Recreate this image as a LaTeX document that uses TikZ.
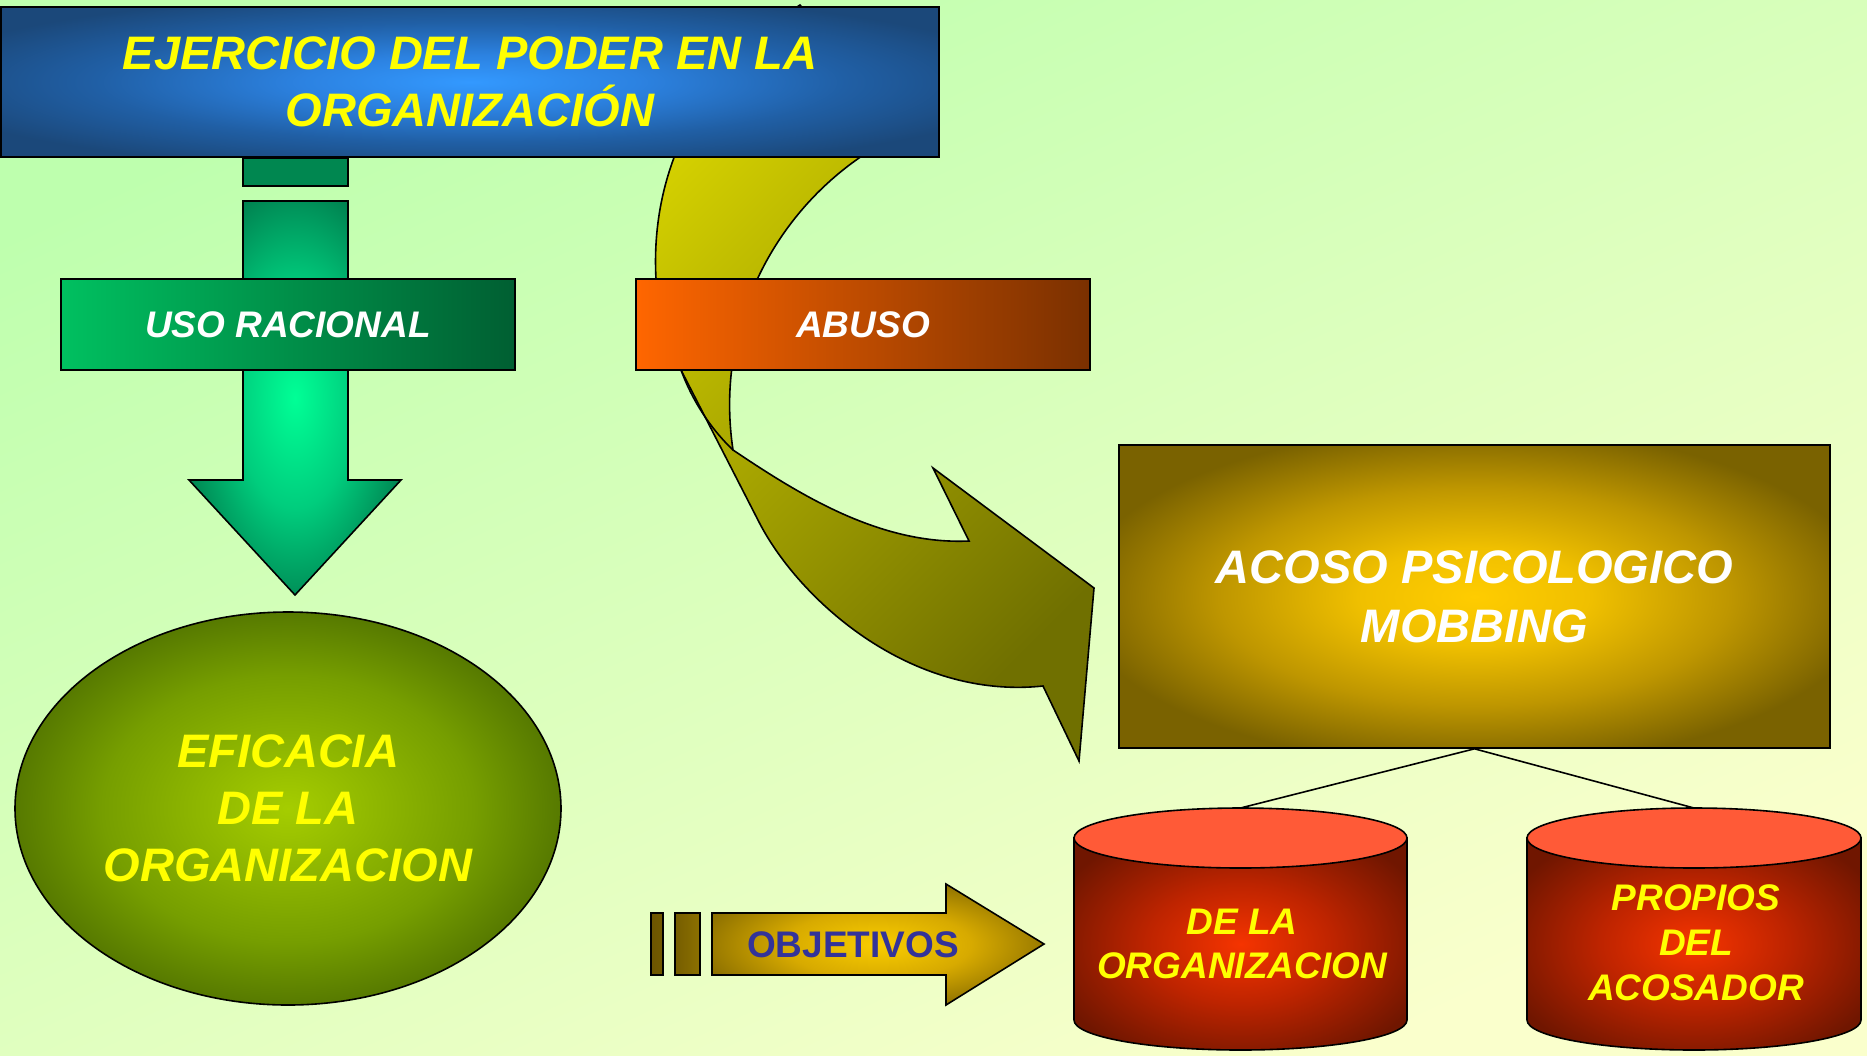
\documentclass[tikz,border=0pt]{standalone}
\usepackage{fontspec}
\setmainfont{Liberation Sans}
\usetikzlibrary{calc,positioning,shapes.geometric}

\definecolor{bgTop}{RGB}{190,255,174}
\definecolor{bgMid}{RGB}{225,255,190}
\definecolor{bgBot}{RGB}{250,255,204}
\definecolor{textoAmarillo}{RGB}{255,255,0}
\definecolor{azulObj}{RGB}{51,51,153}
\definecolor{tituloIn}{RGB}{51,153,255}
\definecolor{tituloA}{RGB}{44,130,225}
\definecolor{tituloMid}{RGB}{32,95,165}
\definecolor{tituloOut}{RGB}{27,72,122}
\definecolor{acosoIn}{RGB}{255,204,0}
\definecolor{acosoA}{RGB}{240,192,0}
\definecolor{acosoMid}{RGB}{190,150,0}
\definecolor{acosoOut}{RGB}{122,98,0}
\definecolor{eficIn}{RGB}{165,205,0}
\definecolor{eficMid}{RGB}{118,158,0}
\definecolor{eficOut}{RGB}{55,85,0}
\definecolor{cilIn}{RGB}{245,52,0}
\definecolor{cilMid}{RGB}{190,36,0}
\definecolor{cilOut}{RGB}{112,22,0}
\definecolor{cilTapa}{RGB}{255,90,55}
\definecolor{verdeIn}{RGB}{0,255,150}
\definecolor{verdeMid}{RGB}{0,205,125}
\definecolor{verdeOut}{RGB}{0,105,65}
\definecolor{verdeTapon}{RGB}{0,135,80}
\definecolor{usoL}{RGB}{0,192,96}
\definecolor{usoR}{RGB}{0,95,50}
\definecolor{abusoL}{RGB}{255,102,0}
\definecolor{abusoR}{RGB}{122,48,0}
\definecolor{curvaTop}{RGB}{212,208,0}
\definecolor{curvaMid}{RGB}{190,186,0}
\definecolor{curvaBot}{RGB}{112,112,0}
\definecolor{objIn}{RGB}{250,205,0}
\definecolor{objMid}{RGB}{215,170,0}
\definecolor{objOut}{RGB}{115,92,0}
\definecolor{barraA}{RGB}{108,85,0}
\definecolor{barraB}{RGB}{140,112,0}

\pgfdeclareradialshading{tituloglow}{\pgfpoint{0bp}{0bp}}{color(0bp)=(tituloIn); color(9bp)=(tituloA); color(20bp)=(tituloMid); color(30bp)=(tituloOut); color(50bp)=(tituloOut)}
\pgfdeclareradialshading{acosoglow}{\pgfpoint{0bp}{0bp}}{color(0bp)=(acosoIn); color(8bp)=(acosoA); color(18bp)=(acosoMid); color(28bp)=(acosoOut); color(50bp)=(acosoOut)}
\pgfdeclareradialshading{eficglow}{\pgfpoint{0bp}{0bp}}{color(0bp)=(eficIn); color(17bp)=(eficMid); color(33bp)=(eficOut); color(50bp)=(eficOut)}
\pgfdeclareradialshading{cilglow}{\pgfpoint{0bp}{0bp}}{color(0bp)=(cilIn); color(14bp)=(cilMid); color(30bp)=(cilOut); color(50bp)=(cilOut)}
\pgfdeclareradialshading{verdeglow}{\pgfpoint{0bp}{0bp}}{color(0bp)=(verdeIn); color(14bp)=(verdeMid); color(32bp)=(verdeOut); color(50bp)=(verdeOut)}
\pgfdeclareradialshading{objglow}{\pgfpoint{0bp}{0bp}}{color(0bp)=(objIn); color(14bp)=(objMid); color(32bp)=(objOut); color(50bp)=(objOut)}

\begin{document}
\begin{tikzpicture}[x=1pt,y=-1pt]
		\tikzset{
			caja/.style={draw=black, line width=1.6pt, inner sep=0pt},
			borde/.style={draw=black, line width=1.6pt},
			amarillo/.style={text=textoAmarillo, align=center, font=\fontsize{47}{57}\selectfont\bfseries\itshape},
			blanco/.style={text=white, align=center, font=\fontsize{47}{59}\selectfont\bfseries\itshape},
			etiqueta/.style={text=white, font=\fontsize{37}{44}\selectfont\bfseries\itshape},
			cilindro/.style={text=textoAmarillo, align=center, font=\fontsize{37}{44}\selectfont\bfseries\itshape}
		}

		% Background
		\shade[top color=bgTop, middle color=bgMid, bottom color=bgBot, shading angle=25] (0,0) rectangle (1867,1055);
		\useasboundingbox (0,0) rectangle (1867,1055);

		% Curved arrow (abuso)
		\path[borde, top color=curvaTop, middle color=curvaMid, bottom color=curvaBot, shading angle=45]
			(800,5) .. controls (700,70) and (650,170) .. (656,279)
			.. controls (658,320) and (668,345) .. (681,370)
			-- (760,524) .. controls (800,600) and (910,700) .. (1043,686)
			-- (1079,761) -- (1094,588) -- (933,468) -- (969,541)
			.. controls (880,545) and (800,495) .. (733,450)
			.. controls (715,330) and (770,220) .. (859,158)
			-- (905,128) -- cycle;
		\draw[line width=1.6pt] (733,450) .. controls (710,428) and (692,400) .. (681,370);

		% Green arrow (uso racional)
		\node[caja, fill=verdeTapon, minimum width=105pt, minimum height=28pt] (tapon) at (295.5,172) {};
		\path[borde, shade, shading=verdeglow]
			(243,201) -- (348,201) -- (348,480) -- (401,480) -- (295,595) -- (189,480) -- (243,480) -- cycle;

		% Title
		\node[caja, shade, shading=tituloglow, amarillo, minimum width=938pt, minimum height=150pt] (titulo) at (470,82)
			{EJERCICIO DEL PODER EN LA\\ORGANIZACIÓN};

		% Middle boxes
		\node[caja, left color=usoL, right color=usoR, etiqueta, minimum width=454pt, minimum height=91pt] (uso) at (288,324.5) {USO RACIONAL};
		\node[caja, left color=abusoL, right color=abusoR, etiqueta, minimum width=454pt, minimum height=91pt] (abuso) at (863,324.5) {ABUSO};

		% Result
		\node[ellipse, caja, shade, shading=eficglow, amarillo, minimum width=546pt, minimum height=393pt] (eficacia) at (288,808.5)
			{EFICACIA\\DE LA\\ORGANIZACION};

		% Mobbing
		\node[caja, shade, shading=acosoglow, blanco, minimum width=711pt, minimum height=303pt] (acoso) at (1474.5,596.5)
			{ACOSO PSICOLOGICO\\MOBBING};

		\coordinate (orgtop) at (1240.5,808);
		\coordinate (propiotop) at (1694,808);
		\draw[line width=1.6pt] (acoso.south) -- (orgtop);
		\draw[line width=1.6pt] (acoso.south) -- (propiotop);

		% Cylinders
		\path[borde, shade, shading=cilglow] (1074,838) -- (1074,1020) arc[start angle=180, end angle=0, x radius=166.5, y radius=30] -- (1407,838) -- cycle;
		\path[borde, fill=cilTapa] (1240.5,838) ellipse[x radius=166.5, y radius=30];
		\node[cilindro] (org) at (1242,944) {DE LA\\ORGANIZACION};

		\path[borde, shade, shading=cilglow] (1527,838) -- (1527,1020) arc[start angle=180, end angle=0, x radius=167, y radius=30] -- (1861,838) -- cycle;
		\path[borde, fill=cilTapa] (1694,838) ellipse[x radius=167, y radius=30];
		\node[cilindro, font=\fontsize{37}{45}\selectfont\bfseries\itshape] (propio) at (1696,943) {PROPIOS\\DEL\\ACOSADOR};

		% Objetivos arrow
		\path[borde, left color=barraA, right color=barraA!80!barraB] (651,913) rectangle (663,975);
		\path[borde, left color=barraA!70!barraB, right color=barraB] (675,913) rectangle (700,975);
		\path[borde, shade, shading=objglow]
			(712,913) -- (946,913) -- (946,884) -- (1044,944) -- (946,1005) -- (946,975) -- (712,975) -- cycle;
		\node[text=azulObj, font=\fontsize{37}{44}\selectfont\bfseries] (objetivos) at (853,945) {OBJETIVOS};

	\end{tikzpicture}
\end{document}
